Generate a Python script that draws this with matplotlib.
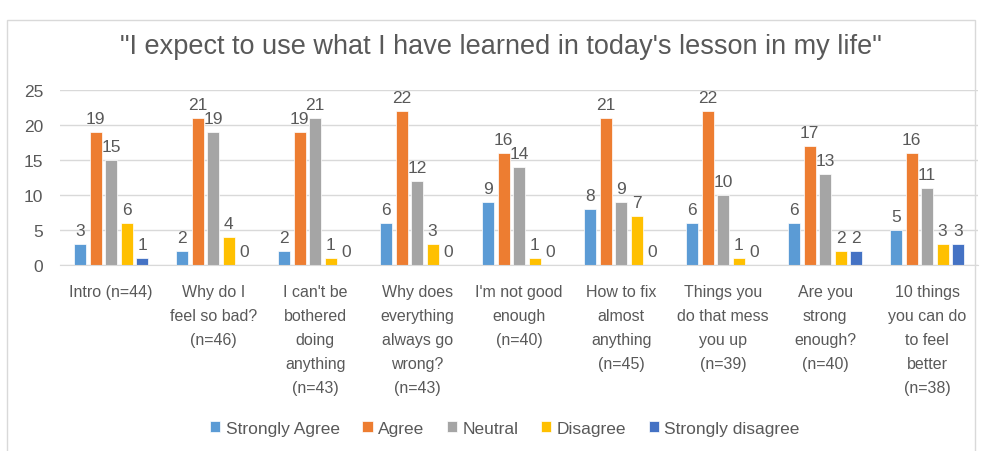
import numpy as np
import matplotlib.pyplot as plt
from matplotlib.patches import Rectangle

plt.rcParams['font.family'] = ['Liberation Sans', 'DejaVu Sans']

categories = ["Intro (n=44)", "Why do I\nfeel so bad?\n(n=46)",
              "I can't be\nbothered\ndoing\nanything\n(n=43)",
              "Why does\neverything\nalways go\nwrong?\n(n=43)",
              "I'm not good\nenough\n(n=40)", "How to fix\nalmost\nanything\n(n=45)",
              "Things you\ndo that mess\nyou up\n(n=39)", "Are you\nstrong\nenough?\n(n=40)",
              "10 things\nyou can do\nto feel\nbetter\n(n=38)"]
series = ["Strongly Agree", "Agree", "Neutral", "Disagree", "Strongly disagree"]
strongly_agree = [3, 2, 2, 6, 9, 8, 6, 6, 5]
agree = [19, 21, 19, 22, 16, 21, 22, 17, 16]
neutral = [15, 19, 21, 12, 14, 9, 10, 13, 11]
disagree = [6, 4, 1, 3, 1, 7, 1, 2, 3]
strongly_disagree = [1, 0, 0, 0, 0, 0, 0, 2, 3]
values = [strongly_agree, agree, neutral, disagree, strongly_disagree]
colors = ["#5B9BD5", "#ED7D31", "#A5A5A5", "#FFC000", "#4472C4"]
txt = "#595959"

fig = plt.figure(figsize=(9.86, 4.52), dpi=100)
fig.patches.append(Rectangle((7 / 986, -0.01), 968 / 986, 1 - 21 / 452 + 0.01,
                             transform=fig.transFigure, fill=False,
                             edgecolor="#D9D9D9", linewidth=1))
ax = fig.add_axes([0.061, 0.4115, 0.931, 0.3872])

x = np.arange(len(categories))
w = 0.118
step = 0.152
for i, (name, vals, c) in enumerate(zip(series, values, colors)):
    bars = ax.bar(x + (i - 2) * step, vals, w, color=c, label=name,
                  edgecolor="white", linewidth=0.5)
    ax.bar_label(bars, padding=4, fontsize=12.5, color=txt)

ax.set_ylim(0, 25)
ax.set_xlim(-0.5, len(categories) - 0.5)
ax.set_yticks(range(0, 26, 5))
ax.yaxis.grid(True, color="#D9D9D9", linewidth=1)
ax.set_axisbelow(True)
for s in ["top", "right", "left"]:
    ax.spines[s].set_visible(False)
ax.spines["bottom"].set_color("#D9D9D9")
ax.tick_params(axis="both", length=0, colors=txt, labelsize=11.5)
ax.tick_params(axis="y", labelsize=12.5, pad=12)
ax.tick_params(axis="x", pad=14)
ax.set_xticks(x)
ax.set_xticklabels(categories, va="top", linespacing=1.75)

fig.text(0.508, 0.895, "\"I expect to use what I have learned in today's lesson in my life\"",
         ha="center", va="center", fontsize=19.5, color=txt)

ax.legend(loc="center", bbox_to_anchor=(0.512, 0.05), bbox_transform=fig.transFigure,
          ncol=5, frameon=False, fontsize=12.5, handlelength=0.6, handleheight=0.6,
          handletextpad=0.3, columnspacing=1.3, labelcolor=txt)

fig.savefig("out.png", dpi=100, facecolor="white")
